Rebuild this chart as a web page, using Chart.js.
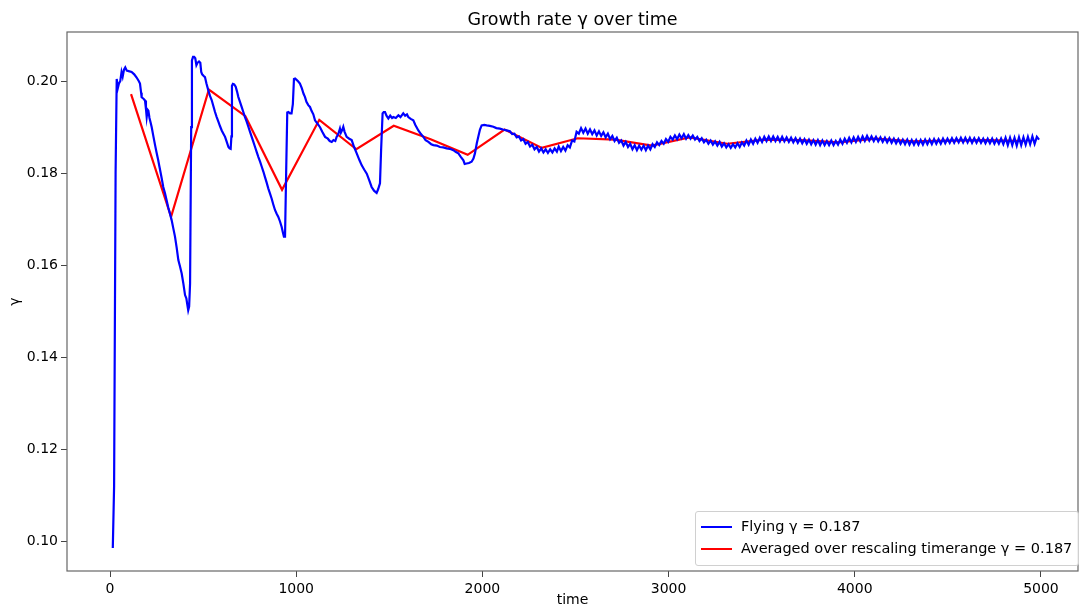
<!DOCTYPE html>
<html>
<head>
<meta charset="utf-8">
<script src="https://cdn.jsdelivr.net/npm/chart.js@4/dist/chart.umd.min.js"></script>
<style>
  html, body { margin: 0; padding: 0; background: #fff; }
  #wrap { position: relative; width: 1079px; height: 611px; }
  #legend { position: absolute; left: 695px; top: 511px; width: 382px; height: 53px;
    border: 1px solid #d0d0d0; border-radius: 3px; background: rgba(255,255,255,0.85);
    font-family: 'DejaVu Sans', sans-serif; font-size: 14.5px; color: #000; }
  .row { position: absolute; left: 0; height: 20px; white-space: nowrap; }
  .swatch { position: absolute; left: 5px; top: 9px; width: 31px; height: 2px; }
  .lbl { position: absolute; left: 45px; top: 0px; line-height: 18px; }
</style>
</head>
<body>
<div id="wrap">
  <canvas id="c" width="1079" height="611"></canvas>
  <div id="legend"></div>
</div>
<script>
// ---- Data ----
const chartTitle = 'Growth rate γ over time';
const xTitle = 'time';
const yTitle = 'γ';
const seriesNames = ['Flying γ = 0.187', 'Averaged over rescaling timerange γ = 0.187'];
const seriesColors = ['#0000ff', '#ff0000'];
const xTicks = [0, 1000, 2000, 3000, 4000, 5000];
const yTicks = [0.10, 0.12, 0.14, 0.16, 0.18, 0.20];

// Flying: early (irregular) part, time and gamma
const flyEarlyT = [15,22,30,36,42,48,55,62,68,75,82,90,100,116,130,143,155,161,167,170,180,188,193,197,202,206,212,218,224,233,242,250,259,265,269,277,286,295,304,313,322,331,340,349,358,367,376,385,394,403,410,416,420,425,430,436,440,446,452,458,464,470,478,485,490,495,502,510,518,528,537,546,555,564,573,582,591,600,609,618,627,636,642,648,652,655,660,667,675,682,689,698,707,716,725,734,743,752,761,770,779,788,797,806,815,824,832,841,850,859,868,877,886,895,904,913,922,928,934,940,946,952,958,967,975,982,988,994,1002,1010,1020,1030,1040,1047,1055,1065,1074,1083,1092,1101,1110,1119,1128,1140,1155,1170,1180,1191,1200,1210,1217,1226,1235,1240,1248,1253,1260,1271,1285,1298,1310,1325,1340,1352,1365,1379,1392,1405,1418,1432,1440,1450,1456,1464,1470,1477,1485,1495,1505,1515,1522,1535,1549,1560,1575,1585,1595,1602,1615,1629,1640,1656,1670,1683,1695,1710,1725,1737,1755,1772,1790,1808,1825,1844,1858,1871,1885,1898,1905,1915,1928,1942,1952,1960,1970,1978,1987,1996,2010,2023,2040,2059,2075,2094,2110,2130,2148,2160,2172,2184,2196,2208,2220,2232,2244,2256,2268,2280,2292,2304,2316,2328,2340,2352,2364,2376,2388,2400];
const flyEarlyG = [0.0985,0.112,0.180,0.2005,0.1985,0.1995,0.2000,0.2020,0.2010,0.2025,0.2030,0.2023,0.2022,0.2020,0.2015,0.2008,0.2000,0.1995,0.1975,0.1965,0.1962,0.1958,0.1940,0.1922,0.1938,0.1936,0.1920,0.1910,0.1900,0.1880,0.1861,0.1845,0.1828,0.1815,0.1807,0.1790,0.1770,0.1757,0.1741,0.1725,0.1712,0.1698,0.1680,0.1662,0.1638,0.1611,0.1597,0.1582,0.1560,0.1535,0.1528,0.1512,0.1502,0.1510,0.1560,0.1900,0.2045,0.2053,0.2053,0.2050,0.2035,0.2040,0.2043,0.2040,0.2020,0.2015,0.2012,0.2009,0.1995,0.1980,0.1968,0.1959,0.1946,0.1933,0.1922,0.1912,0.1902,0.1893,0.1886,0.1879,0.1868,0.1857,0.1854,0.1853,0.1880,0.1990,0.1994,0.1993,0.1988,0.1978,0.1966,0.1955,0.1944,0.1933,0.1922,0.1912,0.1901,0.1890,0.1879,0.1868,0.1857,0.1846,0.1835,0.1825,0.1814,0.1803,0.1792,0.1780,0.1767,0.1756,0.1745,0.1732,0.1720,0.1712,0.1705,0.1695,0.1683,0.1672,0.1662,0.1662,0.1800,0.1932,0.1933,0.1930,0.1930,0.1950,0.2005,0.2006,0.2003,0.2000,0.1995,0.1985,0.1972,0.1966,0.1955,0.1948,0.1944,0.1935,0.1928,0.1915,0.1910,0.1905,0.1900,0.1890,0.1879,0.1875,0.1870,0.1868,0.1872,0.1870,0.1879,0.1885,0.1897,0.1888,0.1895,0.1901,0.1890,0.1879,0.1875,0.1872,0.1858,0.1843,0.1828,0.1817,0.1808,0.1799,0.1785,0.1770,0.1762,0.1757,0.1765,0.1778,0.1850,0.1930,0.1933,0.1933,0.1925,0.1919,0.1925,0.1920,0.1922,0.1920,0.1926,0.1922,0.1930,0.1925,0.1928,0.1922,0.1918,0.1915,0.1905,0.1893,0.1885,0.1879,0.1872,0.1868,0.1863,0.1861,0.1860,0.1857,0.1856,0.1854,0.1853,0.1850,0.1846,0.1843,0.1835,0.1828,0.1820,0.1821,0.1822,0.1825,0.1832,0.1843,0.1865,0.1879,0.1895,0.1904,0.1905,0.1904,0.1903,0.1901,0.1898,0.1897,0.1895,0.1893,0.1891,0.1885,0.1886,0.1878,0.1880,0.1871,0.1874,0.1864,0.1868,0.1858,0.1862,0.1852,0.1857,0.1847,0.1854,0.1845,0.1852,0.1844,0.1852,0.1845,0.1854,0.1847];

// Flying: late (oscillating) part, one sample every 12 time units from t = 2410
const flyLateStart = 2410;
const flyLateStep = 12;
const flyLateG = [
  0.1858,0.1848,0.1857,0.1849,0.1861,0.1856,0.1871,0.1869,0.1890,0.1886,
  0.1898,0.1888,0.1897,0.1886,0.1895,0.1885,0.1893,0.1882,0.1891,0.1881,
  0.1889,0.1878,0.1886,0.1874,0.1881,0.1870,0.1877,0.1866,0.1871,0.1860,
  0.1868,0.1857,0.1864,0.1852,0.1861,0.1850,0.1860,0.1851,0.1860,0.1850,
  0.1860,0.1852,0.1863,0.1857,0.1867,0.1861,0.1870,0.1864,0.1874,0.1868,
  0.1879,0.1873,0.1882,0.1874,0.1884,0.1876,0.1885,0.1875,0.1883,0.1875,
  0.1882,0.1873,0.1879,0.1870,0.1876,0.1867,0.1873,0.1864,0.1871,0.1862,
  0.1869,0.1860,0.1868,0.1858,0.1865,0.1856,0.1863,0.1855,0.1863,0.1856,
  0.1865,0.1857,0.1867,0.1860,0.1871,0.1862,0.1873,0.1864,0.1875,0.1866,
  0.1877,0.1868,0.1879,0.1870,0.1880,0.1870,0.1880,0.1870,0.1879,0.1869,
  0.1879,0.1869,0.1878,0.1868,0.1877,0.1867,0.1876,0.1866,0.1875,0.1865,
  0.1874,0.1864,0.1873,0.1863,0.1872,0.1862,0.1872,0.1861,0.1871,0.1861,
  0.1870,0.1861,0.1871,0.1861,0.1870,0.1862,0.1873,0.1864,0.1875,0.1866,
  0.1877,0.1867,0.1878,0.1868,0.1879,0.1869,0.1880,0.1870,0.1881,0.1871,
  0.1880,0.1870,0.1879,0.1869,0.1878,0.1868,0.1877,0.1867,0.1876,0.1866,
  0.1875,0.1865,0.1874,0.1864,0.1873,0.1863,0.1873,0.1862,0.1872,0.1862,
  0.1872,0.1862,0.1872,0.1862,0.1873,0.1863,0.1873,0.1863,0.1874,0.1864,
  0.1874,0.1864,0.1875,0.1865,0.1875,0.1866,0.1876,0.1866,0.1876,0.1867,
  0.1877,0.1867,0.1877,0.1867,0.1877,0.1866,0.1876,0.1866,0.1876,0.1866,
  0.1875,0.1865,0.1875,0.1865,0.1875,0.1864,0.1874,0.1864,0.1875,0.1863,
  0.1877,0.1861,0.1877,0.1861,0.1877,0.1860,0.1878,0.1861,0.1878,0.1862,
  0.1879,0.1863,0.1880,0.1864,0.1879,0.1873
];

// Averaged over rescaling timerange
const avgT = [113,328,531,727,924,1124,1323,1524,1722,1921,2119,2319,2512,2712,2910,3112,3315,3514,3713,3912,4111,4310,4509,4708,4907];
const avgG = [0.1972,0.1705,0.1982,0.1924,0.1764,0.1916,0.1852,0.1903,0.1874,0.1840,0.1895,0.1855,0.1876,0.1873,0.1860,0.1878,0.1864,0.1873,0.1872,0.1867,0.1875,0.1869,0.1871,0.1872,0.1870];

// ---- Build datasets ----
const flyData = flyEarlyT.map((t, i) => ({x: t, y: flyEarlyG[i]}))
  .concat(flyLateG.map((g, i) => ({x: flyLateStart + i * flyLateStep, y: g})));
const avgData = avgT.map((t, i) => ({x: t, y: avgG[i]}));

const FONT = "'DejaVu Sans', sans-serif";

const framePlugin = {
  id: 'frame',
  afterDraw(chart) {
    const {ctx, chartArea: a} = chart;
    ctx.save();
    ctx.strokeStyle = '#666';
    ctx.lineWidth = 1.2;
    ctx.strokeRect(a.left, a.top, a.right - a.left, a.bottom - a.top);
    ctx.restore();
  }
};

new Chart(document.getElementById('c'), {
  type: 'line',
  data: {
    datasets: [
      {label: seriesNames[0], data: flyData, borderColor: seriesColors[0], borderWidth: 2.2,
       pointRadius: 0, tension: 0, fill: false},
      {label: seriesNames[1], data: avgData, borderColor: seriesColors[1], borderWidth: 2.2,
       pointRadius: 0, tension: 0, fill: false}
    ]
  },
  options: {
    responsive: false,
    animation: false,
    layout: {padding: {left: 0, right: 1, top: 0, bottom: 0}},
    plugins: {
      legend: {display: false},
      tooltip: {enabled: false},
      title: {display: true, text: chartTitle, fullSize: false, color: '#000',
        font: {family: FONT, size: 17.5, weight: 'normal', lineHeight: 1.2},
        padding: {top: 9.5, bottom: 1.5}}
    },
    scales: {
      x: {
        type: 'linear', position: 'bottom', min: -231, max: 5199,
        afterBuildTicks: s => { s.ticks = xTicks.map(v => ({value: v})); },
        afterFit: s => { s.height = 40; },
        border: {display: false},
        grid: {drawOnChartArea: false, drawTicks: true, tickLength: 6, tickColor: '#444', color: '#444'},
        ticks: {color: '#000', font: {family: FONT, size: 14}, padding: 4, maxRotation: 0,
          callback: v => String(v)},
        title: {display: true, text: xTitle, color: '#000', font: {family: FONT, size: 14},
          padding: {top: 0, bottom: 2}}
      },
      y: {
        type: 'linear', position: 'left', min: 0.0935, max: 0.2107,
        afterBuildTicks: s => { s.ticks = yTicks.map(v => ({value: v})); },
        afterFit: s => { s.width = 67; },
        border: {display: false},
        grid: {drawOnChartArea: false, drawTicks: true, tickLength: 6, tickColor: '#444', color: '#444'},
        ticks: {color: '#000', font: {family: FONT, size: 14}, padding: 3,
          callback: v => Number(v).toFixed(2)},
        title: {display: true, text: yTitle, color: '#000', font: {family: FONT, size: 14},
          padding: {top: 7, bottom: 0}}
      }
    }
  },
  plugins: [framePlugin]
});

// HTML legend built from the series names and colours
const legend = document.getElementById('legend');
seriesNames.forEach((name, i) => {
  const row = document.createElement('div');
  row.className = 'row';
  row.style.top = (5 + i * 22) + 'px';
  row.style.width = '100%';
  const sw = document.createElement('div');
  sw.className = 'swatch';
  sw.style.background = seriesColors[i];
  const lb = document.createElement('div');
  lb.className = 'lbl';
  lb.textContent = name;
  row.appendChild(sw);
  row.appendChild(lb);
  legend.appendChild(row);
});
</script>
</body>
</html>
